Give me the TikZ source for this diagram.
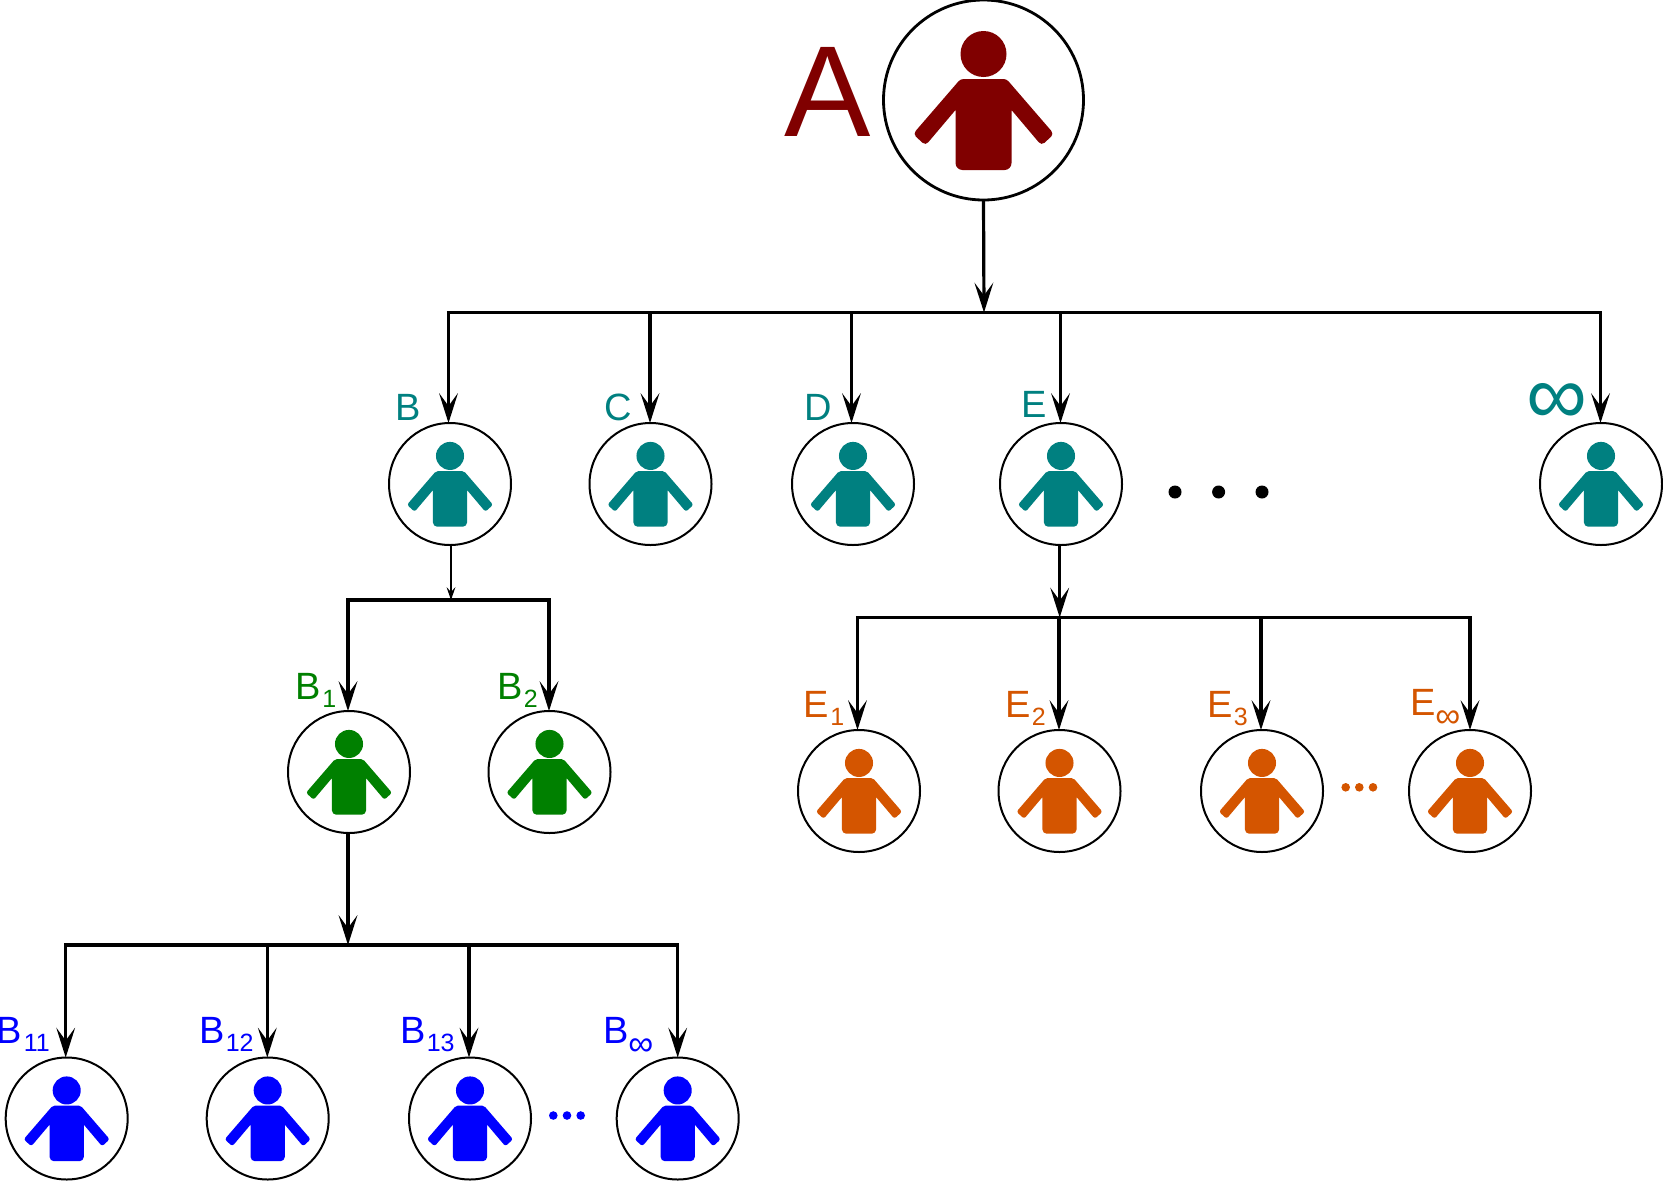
\documentclass[tikz,border=0pt]{standalone}
\usepackage{fontspec}
\setmainfont{Liberation Sans}
\usetikzlibrary{arrows.meta}
\definecolor{cA}{HTML}{800000}
\definecolor{cT}{HTML}{008080}
\definecolor{cG}{HTML}{008000}
\definecolor{cB}{HTML}{0000FF}
\definecolor{cE}{HTML}{D45500}
\newcommand\personfig[4]{%
  \begin{scope}[shift={(#1)},scale=#2]
    \fill[#3] (0,-46) circle[radius=23];
    \fill[#3,rounded corners=#4*3pt] (-23,-21) -- (23,-21)
      [rounded corners=#4*4pt] -- (70.5,34) -- (58,45.5)
      [sharp corners] -- (28,10)
      [rounded corners=#4*7pt] -- (28,70) -- (-28,70)
      [sharp corners] -- (-28,10)
      [rounded corners=#4*4pt] -- (-58,45.5) -- (-70.5,34)
      [rounded corners=#4*3pt] -- cycle;
  \end{scope}}
\newcommand\subs[1]{\raisebox{-8pt}{\fontsize{25}{25}\selectfont\kern1.5pt #1}}
\newcommand\subinf{\raisebox{-12.5pt}{\fontsize{35}{35}\selectfont\kern0pt ∞}}
\tikzset{
  big/.style={circle,draw=black,line width=2.8pt,fill=white,minimum size=200pt,inner sep=0pt,outer sep=0pt},
  small/.style={circle,draw=black,line width=2pt,fill=white,minimum size=122pt,inner sep=0pt,outer sep=0pt},
  wire/.style={line width=3.2pt,line cap=butt,line join=miter},
  arr/.style={wire,-{Stealth[length=30pt,width=19pt,inset=13pt,line width=0pt]}},
  arrs/.style={line width=2.6pt,-{Stealth[length=13pt,width=9pt,inset=5pt,line width=0pt]}},
  lab/.style={anchor=base west,inner sep=0pt,outer sep=0pt,font=\fontsize{38}{38}\selectfont},
  dotT/.style={circle,fill=black,inner sep=0pt,minimum size=13pt},
  dotE/.style={circle,fill=cE,inner sep=0pt,minimum size=8.6pt},
  dotB/.style={circle,fill=cB,inner sep=0pt,minimum size=8.6pt},
}
\begin{document}
\begin{tikzpicture}[x=1pt,y=-1pt]
\useasboundingbox (0,0) rectangle (1663,1181);
% person nodes
\node[big] (A) at (983.5,100) {};
\foreach \n/\x/\y in {B/450/484,C/650.5/484,D/853/484,E/1061/484,F/1601/484,
  Ba/349/772,Bb/549.5/772,
  Ea/859/791,Eb/1059.5/791,Ec/1262/791,Ed/1470/791,
  Baa/66.7/1118.5,Bab/267.7/1118.5,Bac/470/1118.5,Bad/677.7/1118.5}
  \node[small] (\n) at (\x,\y) {};
\personfig{A}{1}{cA}{1}
\foreach \n in {B,C,D,E,F} {\personfig{\n}{.61}{cT}{.61}}
\foreach \n in {Ba,Bb} {\personfig{\n}{.61}{cG}{.61}}
\foreach \n in {Ea,Eb,Ec,Ed} {\personfig{\n}{.61}{cE}{.61}}
\foreach \n in {Baa,Bab,Bac,Bad} {\personfig{\n}{.61}{cB}{.61}}
% top bus
\coordinate (t0) at (984,312.5);
\foreach \n/\x in {t1/448.5,t2/650,t3/851.5,t4/1060.5,t5/1600.5}
  \coordinate (\n) at (\x,312.5);
\draw[arr] (A.south) -- (t0);
\draw[wire] ([xshift=-1.6pt]t1) -- ([xshift=1.6pt]t5);
\draw[arr] (t1) -- (t1 |- B.north);
\draw[arr] (t2) -- (t2 |- C.north);
\draw[arr] (t3) -- (t3 |- D.north);
\draw[arr] (t4) -- (t4 |- E.north);
\draw[arr] (t5) -- (t5 |- F.north);
% B bus
\coordinate (b0) at (451,600);
\coordinate (b1) at (348,600);
\coordinate (b2) at (549,600);
\draw[arrs] (b0 |- B.south) -- (b0);
\draw[wire] ([xshift=-1.6pt]b1) -- ([xshift=1.6pt]b2);
\draw[arr] (b1) -- (b1 |- Ba.north);
\draw[arr] (b2) -- (b2 |- Bb.north);
% E bus
\coordinate (e0) at (1059.7,617.5);
\foreach \n/\x in {e1/857.5,e2/1059,e3/1261,e4/1470}
  \coordinate (\n) at (\x,617.5);
\draw[arr] (e0 |- E.south) -- (e0);
\draw[wire] ([xshift=-1.6pt]e1) -- ([xshift=1.6pt]e4);
\draw[arr] (e1) -- (e1 |- Ea.north);
\draw[arr] (e2) -- (e2 |- Eb.north);
\draw[arr] (e3) -- (e3 |- Ec.north);
\draw[arr] (e4) -- (e4 |- Ed.north);
% B1 bus
\coordinate (g0) at (348,945);
\foreach \n/\x in {g1/65.7,g2/267.3,g3/469,g4/677.7}
  \coordinate (\n) at (\x,945);
\draw[arr] (g0 |- Ba.south) -- (g0);
\draw[wire] ([xshift=-1.6pt]g1) -- ([xshift=1.6pt]g4);
\draw[arr] (g1) -- (g1 |- Baa.north);
\draw[arr] (g2) -- (g2 |- Bab.north);
\draw[arr] (g3) -- (g3 |- Bac.north);
\draw[arr] (g4) -- (g4 |- Bad.north);
% labels
\node[lab,text=cA,font=\fontsize{129.5}{129.5}\selectfont] (lA) at (784,136) {A};
\node[lab,text=cT] (lB) at (395,420) {B};
\node[lab,text=cT] (lC) at (604,420) {C};
\node[lab,text=cT] (lD) at (804.5,420) {D};
\node[lab,text=cT] (lE) at (1021.5,417) {E};
\node[lab,text=cT,font=\fontsize{85.5}{85.5}\selectfont] (lF) at (1526,424) {∞};
\node[lab,text=cG] (lBa) at (295.5,699.5) {B\subs{1}};
\node[lab,text=cG] (lBb) at (497,699.5) {B\subs{2}};
\node[lab,text=cE] (lEa) at (803.5,717) {E\subs{1}};
\node[lab,text=cE] (lEb) at (1005,717) {E\subs{2}};
\node[lab,text=cE] (lEc) at (1207,717) {E\subs{3}};
\node[lab,text=cE] (lEd) at (1410,715) {E\subinf};
\node[lab,text=cB] (lBaa) at (-3,1043) {B\subs{11}};
\node[lab,text=cB] (lBab) at (199,1043) {B\subs{12}};
\node[lab,text=cB] (lBac) at (400,1043) {B\subs{13}};
\node[lab,text=cB] (lBad) at (603,1043) {B\subinf};
% ellipses
\foreach \n/\x in {a/1175,b/1218.6,c/1262} \node[dotT] (dT\n) at (\x,492) {};
\foreach \n/\x in {a/1345.7,b/1359.3,c/1373} \node[dotE] (dE\n) at (\x,787.3) {};
\foreach \n/\x in {a/553.3,b/567,c/580.7} \node[dotB] (dB\n) at (\x,1115.5) {};
\end{tikzpicture}
\end{document}
